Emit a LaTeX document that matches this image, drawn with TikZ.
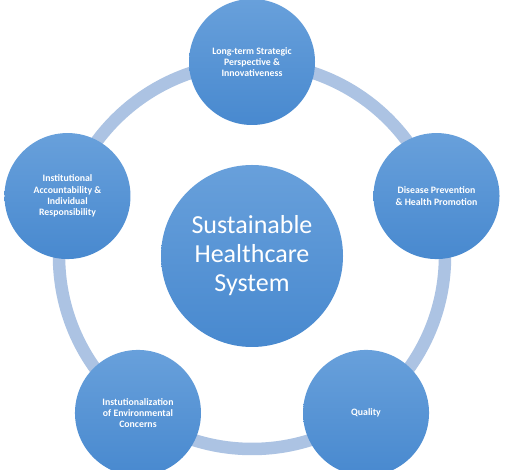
\documentclass[tikz,border=0pt]{standalone}
\usepackage{fontspec}
\setmainfont{Carlito}
\usetikzlibrary{calc}
\definecolor{ringc}{RGB}{172,195,227}
\definecolor{ctop}{RGB}{104,160,219}
\definecolor{cbot}{RGB}{72,137,207}
\begin{document}
\begin{tikzpicture}[x=1pt,y=1pt,
  bubble/.style={circle, minimum size=126pt, inner sep=0pt, top color=ctop, bottom color=cbot,
    draw=none, text=white, align=center, font=\bfseries\fontsize{9.8}{11.2}\selectfont},
  hub/.style={circle, minimum size=182pt, inner sep=0pt, top color=ctop, bottom color=cbot,
    draw=none, text=white, align=center, font=\fontsize{26}{29}\selectfont},
  ring/.style={draw=ringc, line width=12.5pt}]
\useasboundingbox (0,0) rectangle (505,470);
\clip (0,0) rectangle (505,470);
\fill[white] (0,0) rectangle (505,470);
\coordinate (o) at (252,214);
\draw[ring] (o) circle[radius=193];
\node[hub] (c) at (o) {Sustainable\\Healthcare\\System};
\node[bubble] (t) at ($(o)+(90:194)$) {Long-term Strategic\\Perspective \&\\Innovativeness};
\node[bubble] (r) at ($(o)+(18:194)$) {Disease Prevention\\\& Health Promotion};
\node[bubble] (br) at ($(o)+(-54:194)$) {Quality};
\node[bubble] (bl) at ($(o)+(-126:194)$) {Instutionalization\\of Environmental\\Concerns};
\node[bubble] (l) at ($(o)+(162:194)$) {Institutional\\Accountability \&\\Individual\\Responsibility};
\end{tikzpicture}
\end{document}
